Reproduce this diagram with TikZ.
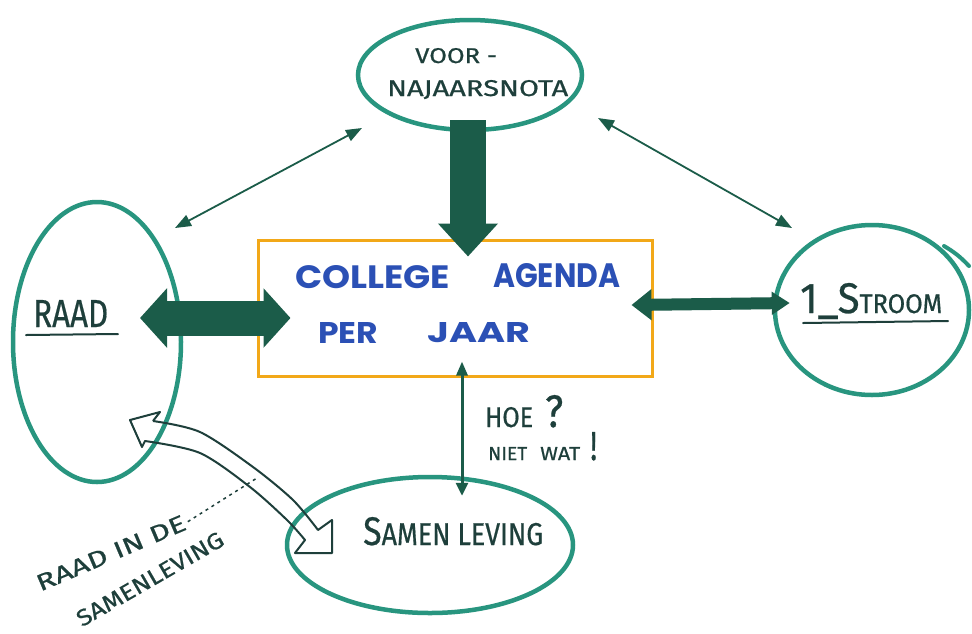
\documentclass[tikz,border=0pt]{standalone}
\usepackage{fontspec}
\usepackage{graphicx}
\setmainfont{Fira Sans}[FakeBold=0.6]
\newfontfamily\boxfont{Poppins}
\usetikzlibrary{arrows.meta,shapes.geometric}
\definecolor{teal1}{HTML}{28957F}
\definecolor{dkgreen}{HTML}{1B5C49}
\definecolor{ink}{HTML}{1E3F3B}
\definecolor{blueink}{HTML}{2B50B5}
\definecolor{boxor}{HTML}{F2A818}
\newcommand{\fitxt}[3]{\resizebox{#1pt}{#2pt}{#3}}
\begin{document}
\begin{tikzpicture}[x=1pt,y=-1pt,
  oval/.style={draw=teal1, line width=4.5pt, ellipse, inner sep=0pt},
  lbl/.style={inner sep=0pt, text=ink, anchor=base west},
  btxt/.style={inner sep=0pt, text=blueink, anchor=base west, font=\boxfont\bfseries},
  fatarrow/.style={draw=dkgreen, line width=35pt},
  thinarrow/.style={draw=dkgreen, line width=1.8pt, {Triangle[length=16pt,width=12pt]}-{Triangle[length=16pt,width=12pt]}},
  uline/.style={draw=ink, line width=2pt, line cap=round}]
\fill[white] (0,0) rectangle (972,633);
\useasboundingbox (0,0) rectangle (972,633);

% ovals
\node[oval, minimum width=224pt, minimum height=110pt] (top) at (470,75) {};
\node[oval, minimum width=168pt, minimum height=280pt] (raad) at (97,342) {};
\node[oval, minimum width=194pt, minimum height=170pt] (stroom) at (872,310) {};
\node[oval, minimum width=286pt, minimum height=136pt] (samen) at (430,545) {};
\draw[teal1, line width=4pt, line cap=round] (944,246) to[bend left=8] (969,266);

% central box
\node[draw=boxor, line width=3pt, minimum width=394pt, minimum height=136pt, inner sep=0pt] (box) at (455,308) {};

% texts
\node[lbl] (voor) at (415,63) {\fitxt{82}{15}{VOOR -}};
\node[lbl] (najaar) at (387,96) {\fitxt{181}{16}{NAJAARSNOTA}};
\node[btxt] (col) at (295,288) {\fitxt{155}{23}{COLLEGE}};
\node[btxt] (agenda) at (493,287) {\fitxt{127}{24}{AGENDA}};
\node[btxt] (per) at (318,343) {\fitxt{60}{21}{PER}};
\node[btxt] (jaar) at (427,342) {\fitxt{103}{20}{JAAR}};
\node[lbl] (raadt) at (33,327) {\fitxt{75}{27}{RAAD}};
\draw[uline] (26,335) -- (118,334);
\node[lbl] (stroomt) at (800,313) {\fitxt{142}{30}{1\_S{\fontsize{6.3}{7}\selectfont TROOM}}};
\draw[uline] (803,323) -- (948,321);
\node[lbl] (samt) at (363,545) {\fitxt{180}{28}{S{\fontsize{7.9}{8}\selectfont AMEN LEVING}}};
\node[lbl] (hoe) at (485,427) {\fitxt{48}{20}{HOE}\hspace{12pt}\fitxt{18}{32}{?}};
\node[lbl] (niet) at (488,460) {\fitxt{39}{13}{NIET}\hspace{13pt}\fitxt{40}{13}{WAT}\hspace{10pt}\fitxt{7}{28}{!}};
\node[text=ink, inner sep=0pt, rotate=23] (lab1) at (111,553) {\fitxt{160}{16}{RAAD IN DE}};
\node[text=ink, inner sep=0pt, rotate=30] (lab2) at (150,579) {\fitxt{166}{16}{SAMENLEVING}};
\coordinate (tick) at (257,478);
\draw[ink, line width=1.5pt, dash pattern=on 3pt off 4pt] ([xshift=3pt]lab1.east) -- (tick);

% arrows
\draw[fatarrow, {Triangle[length=27pt,width=58pt]}-{Triangle[length=27pt,width=58pt]}]
  ([xshift=43pt,yshift=24pt]raad.center) -- ([xshift=34pt,yshift=-10pt]box.west);
\draw[draw=dkgreen, line width=36pt, -{Triangle[length=33pt,width=58pt]}]
  ([xshift=-2pt,yshift=12pt]top.south) -- ([xshift=13pt,yshift=-18pt]box.north);
\draw[draw=dkgreen, line width=12pt, {Triangle[length=20pt,width=30pt]}-{Triangle[length=18pt,width=22pt]}]
  ([xshift=-22pt,yshift=3pt]box.east) -- ([xshift=17pt,yshift=7pt]stroom.west);
\draw[draw=dkgreen, line width=3pt, {Triangle[length=14pt,width=11pt]}-{Triangle[length=13pt,width=12pt]}]
  ([xshift=7pt,yshift=16pt]box.south) -- ([xshift=32pt,yshift=-21pt]samen.north);
\draw[thinarrow] ([xshift=-108pt,yshift=-53pt]top.center) -- ([xshift=78pt,yshift=114pt]raad.center);
\draw[thinarrow] ([xshift=128pt,yshift=-43pt]top.center) -- ([xshift=-80pt,yshift=82pt]stroom.center);

% hollow curved double arrow Raad <-> Samenleving
\draw[ink, line width=2pt, line join=round]
  (153,421) -- (160,412) -- (130,420) -- (142,447) -- (145,441)
  -- plot[smooth] coordinates {(145,441) (200,453) (250,487) (287,520) (305,540)}
  -- (295,553) -- (332,553) -- (332,520) -- (318,530)
  -- plot[smooth] coordinates {(318,530) (293,500) (253,467) (200,432) (153,421)};
\end{tikzpicture}
\end{document}
